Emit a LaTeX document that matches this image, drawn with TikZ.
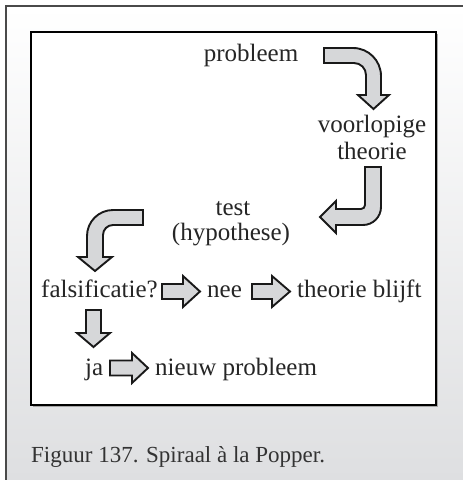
\documentclass[tikz,border=0pt]{standalone}
\usepackage{fontspec}
\setmainfont{Liberation Serif}
\begin{document}
\begin{tikzpicture}[x=1pt,y=-1pt,
  lbl/.style={inner sep=0pt, font=\fontsize{25}{27}\selectfont, text=black!85},
  captiontext/.style={inner sep=0pt, font=\fontsize{23}{25}\selectfont, text=black!80},
  blockarrow/.style={fill=arrowgray, draw=black!90, line width=1.9pt, line join=miter}]
\definecolor{arrowgray}{HTML}{D6D7D9}
\definecolor{panelgray}{HTML}{DEDFE1}
\definecolor{framegray}{HTML}{4A4A4A}
\useasboundingbox (0,0) rectangle (463,480);
% panel background and its frame
\fill[white] (0,0) rectangle (463,480);
\shade[top color=white, bottom color=panelgray] (6,6) rectangle (463,480);
\draw[framegray, line width=2.6pt] (6,480) -- (6,6) -- (463,6);
% white diagram area with a soft shadow
\fill[black!35] (33,34) rectangle (438,407);
\filldraw[fill=white, draw=black, line width=2pt] (31,32) rectangle (436,405);

% texts
\node[lbl, anchor=base] (prob) at (251,61) {probleem};
\node[lbl, anchor=base] (voor) at (372,132) {voorlopige};
\node[lbl, anchor=base] (theo) at (372,159) {theorie};
\node[lbl, anchor=base] (test) at (233,215) {test};
\node[lbl, anchor=base] (hyp) at (231,240) {(hypothese)};
\node[lbl, anchor=base west] (fals) at (41,297) {falsificatie?};
\node[lbl, anchor=base west] (nee) at (207,297) {nee};
\node[lbl, anchor=base west] (blijft) at (297,297) {theorie blijft};
\node[lbl, anchor=base west] (ja) at (85,375) {ja};
\node[lbl, anchor=base west] (nieuw) at (155,375) {nieuw probleem};
\node[captiontext, anchor=base west] (caption) at (31,462) {Figuur 137. Spiraal à la Popper.};

% bent arrow: probleem -> voorlopige theorie
\draw[blockarrow] (324,48) -- (353,48) arc[start angle=-90, end angle=0, radius=28]
  -- (381,95) -- (389,95) -- (373.5,109) -- (358,95) -- (366,95) -- (366,75)
  arc[start angle=0, end angle=-90, radius=12] -- (324,63) -- cycle;
% bent arrow: theorie -> test
\draw[blockarrow] (365,167) -- (381,167) -- (381,207) arc[start angle=0, end angle=90, radius=18]
  -- (336,225) -- (336,233) -- (320,217) -- (336,201) -- (336,209) -- (361,209)
  arc[start angle=90, end angle=0, radius=4] -- cycle;
% bent arrow: test -> falsificatie?
\draw[blockarrow] (143,210) -- (113,210) arc[start angle=-90, end angle=-180, radius=26]
  -- (87,257) -- (78,257) -- (95,271) -- (112,257) -- (103,257) -- (103,235)
  arc[start angle=180, end angle=270, radius=10] -- (143,225) -- cycle;
% straight arrows
\draw[blockarrow] (162,284) -- (183,284) -- (183,276) -- (200,291.5) -- (183,307) -- (183,299) -- (162,299) -- cycle;
\draw[blockarrow] (252,284) -- (272,284) -- (272,276) -- (290,291.5) -- (272,307) -- (272,299) -- (252,299) -- cycle;
\draw[blockarrow] (86,310) -- (101,310) -- (101,333) -- (110,333) -- (93.5,347) -- (77,333) -- (86,333) -- cycle;
\draw[blockarrow] (110,360.5) -- (132,360.5) -- (132,353) -- (148,368) -- (132,383) -- (132,375.5) -- (110,375.5) -- cycle;
\end{tikzpicture}
\end{document}
